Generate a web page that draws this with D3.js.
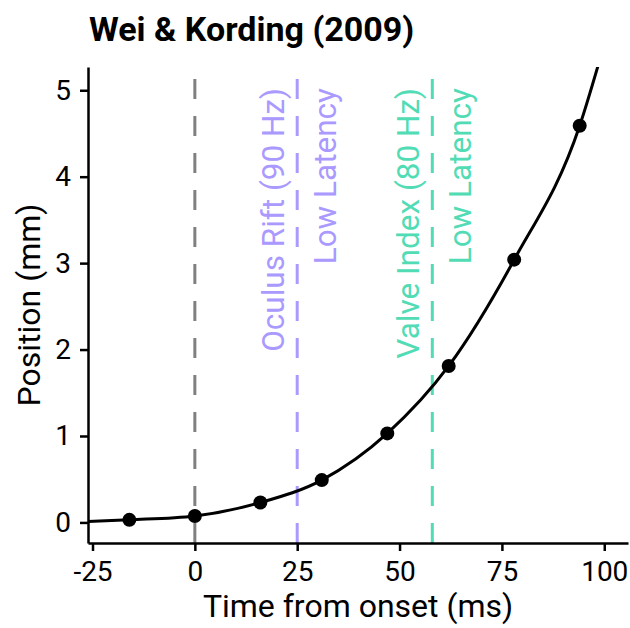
<!DOCTYPE html>
<html lang="en">
<head>
<meta charset="UTF-8">
<title>Wei & Kording (2009)</title>
<style>
  body { margin: 0; background: #fff; }
  text { font-family: Roboto, "Noto Sans", sans-serif; }
  .axis path, .axis line { stroke: #000; stroke-width: 2.5px; }
  .axis text { font-size: 28px; fill: #000; }
</style>
</head>
<body>
<script src="https://d3js.org/d3.v7.min.js"></script>
<script>
// observed points (ms, mm)
const timeMs = [-16, 0, 16, 31, 47, 62, 78, 94];
const positionMm = [0.03, 0.075, 0.23, 0.49, 1.03, 1.81, 3.04, 4.59];

// the drawn curve runs past the points at both ends
const curveTime = [-26.1, -16, 0, 16, 31, 47, 62, 78, 94, 99.5];
const curvePos = [0.01, 0.03, 0.075, 0.23, 0.49, 1.03, 1.81, 3.04, 4.59, 5.45];

const xTicks = [-25, 0, 25, 50, 75, 100];
const yTicks = [0, 1, 2, 3, 4, 5];

// reference lines: onset and two headsets
const refNames = ["onset", "Oculus Rift (90 Hz)", "Valve Index (80 Hz)"];
const refTimes = [0, 25, 58];
const refColors = ["#808080", "#aa99ff", "#52dcb5"];

const width = 630, height = 628;
const margin = { top: 67, right: 2, bottom: 85, left: 88 };

const svg = d3.select("body").append("svg")
  .attr("width", width)
  .attr("height", height);

const x = d3.scaleLinear().domain([-26.1, 105.8])
  .range([margin.left, width - margin.right]);
const y = d3.scaleLinear().domain([-0.238, 5.269])
  .range([height - margin.bottom, margin.top]);

// plain hyphen for negatives, like the reference
const fmt = d => String(d);

svg.append("defs").append("clipPath").attr("id", "panel")
  .append("rect")
  .attr("x", margin.left).attr("y", margin.top)
  .attr("width", width - margin.left - margin.right)
  .attr("height", height - margin.top - margin.bottom);

// dashed vertical lines, drawn bottom-up so the dash starts at the axis
svg.selectAll(".ref")
  .data(refTimes)
  .enter().append("line")
  .attr("class", "ref")
  .attr("x1", d => x(d)).attr("x2", d => x(d))
  .attr("y1", height - margin.bottom).attr("y2", margin.top)
  .attr("stroke", (d, i) => refColors[i])
  .attr("stroke-width", 3)
  .attr("stroke-dasharray", "20,17");

// labels next to the headset lines
const labels = svg.selectAll(".lab")
  .data(refTimes.slice(1))
  .enter().append("g")
  .attr("class", "lab")
  .attr("fill", (d, i) => refColors[i + 1])
  .style("font-size", "31.5px");

labels.append("text")
  .attr("transform", d => `translate(${x(d) - 13},88) rotate(-90)`)
  .attr("text-anchor", "end")
  .text((d, i) => refNames[i + 1]);

labels.append("text")
  .attr("transform", d => `translate(${x(d) + 39},88) rotate(-90)`)
  .attr("text-anchor", "end")
  .text("Low Latency");

// curve
const curveData = curveTime.map((t, i) => [t, curvePos[i]]);
svg.append("path")
  .datum(curveData)
  .attr("clip-path", "url(#panel)")
  .attr("fill", "none")
  .attr("stroke", "#000")
  .attr("stroke-width", 3)
  .attr("d", d3.line()
    .x(d => x(d[0]))
    .y(d => y(d[1]))
    .curve(d3.curveMonotoneX));

// points
svg.selectAll(".pt")
  .data(timeMs)
  .enter().append("circle")
  .attr("class", "pt")
  .attr("cx", d => x(d))
  .attr("cy", (d, i) => y(positionMm[i]))
  .attr("r", 7)
  .attr("fill", "#000");

// axes
const xAxis = svg.append("g")
  .attr("class", "axis")
  .attr("transform", `translate(0,${height - margin.bottom})`)
  .call(d3.axisBottom(x).tickValues(xTicks).tickFormat(fmt)
    .tickSize(8).tickPadding(5).tickSizeOuter(0));

const yAxis = svg.append("g")
  .attr("class", "axis")
  .attr("transform", `translate(${margin.left},0)`)
  .call(d3.axisLeft(y).tickValues(yTicks).tickFormat(fmt)
    .tickSize(8).tickPadding(9).tickSizeOuter(0));

xAxis.selectAll("text").attr("dy", "0.9em");

// titles
svg.append("text")
  .attr("x", (margin.left + width - margin.right) / 2)
  .attr("y", 617)
  .attr("text-anchor", "middle")
  .style("font-size", "32px")
  .text("Time from onset (ms)");

svg.append("text")
  .attr("transform", `translate(40,${(margin.top + height - margin.bottom) / 2}) rotate(-90)`)
  .attr("text-anchor", "middle")
  .style("font-size", "32px")
  .text("Position (mm)");

svg.append("text")
  .attr("x", 89)
  .attr("y", 41)
  .style("font-size", "34px")
  .style("font-weight", "bold")
  .text("Wei & Kording (2009)");
</script>
</body>
</html>
